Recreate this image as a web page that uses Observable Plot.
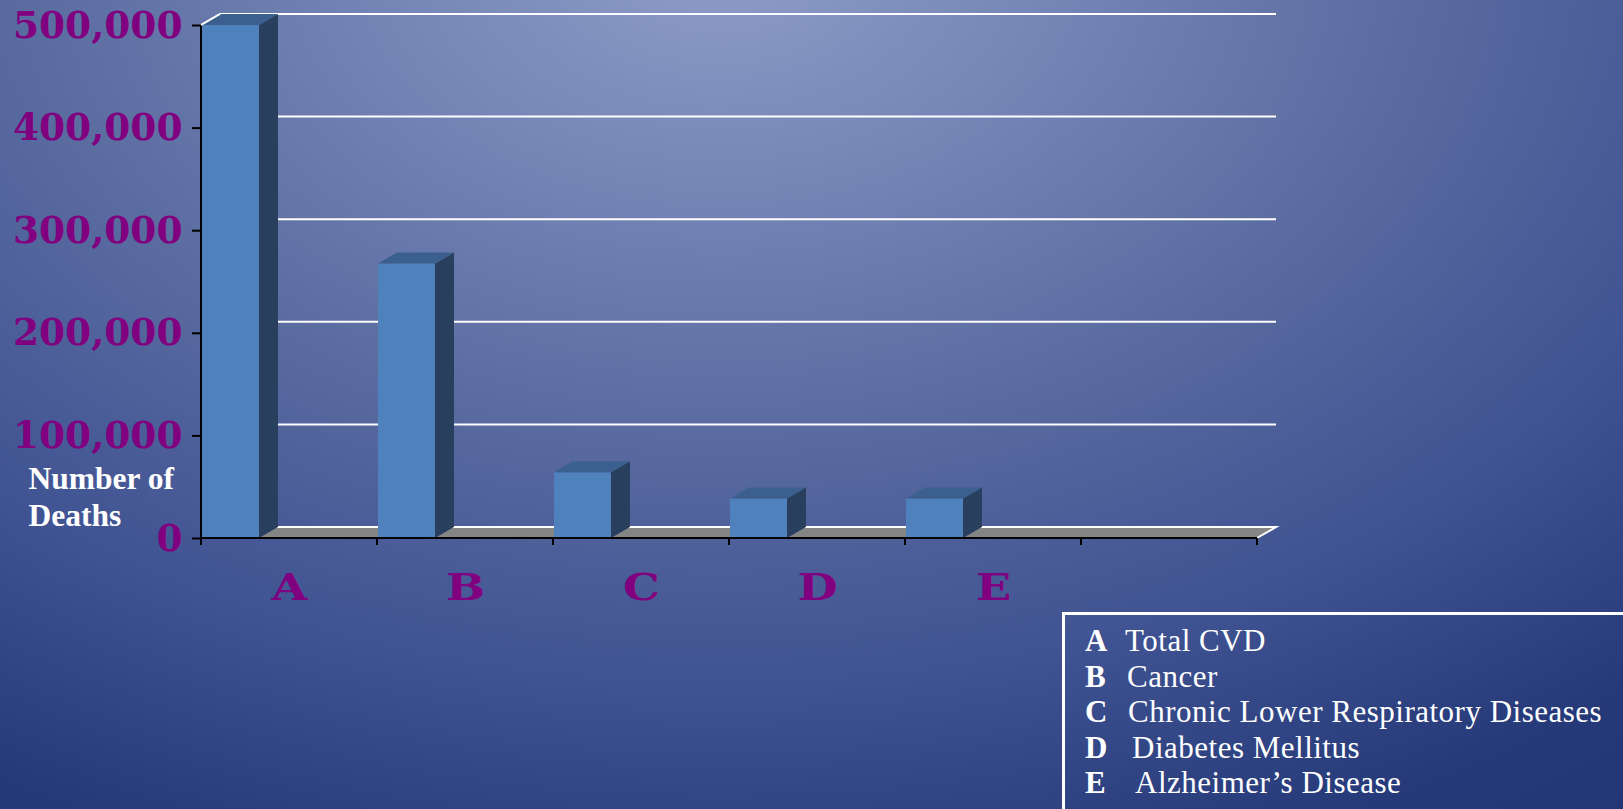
<!DOCTYPE html>
<html>
<head>
<meta charset="utf-8">
<script src="https://cdn.jsdelivr.net/npm/d3@7"></script>
<script src="https://cdn.jsdelivr.net/npm/@observablehq/plot@0.6"></script>
<style>
  html, body { margin: 0; padding: 0; }
  body {
    width: 1623px; height: 809px; overflow: hidden;
    background: radial-gradient(ellipse 1400px 950px at 720px -40px,
      #8e9dc7 0%, #7484b5 25%, #5a6ba0 50%, #415493 75%, #263a7a 100%, #1f3170 120%);
  }
  svg { display: block; }
  #legend {
    margin-left: 1062px;
    width: 620px; height: 260px;
    border-top: 3px solid #fff; border-left: 3px solid #fff;
    box-sizing: border-box;
    padding: 8px 0 0 20px;
    font-family: "Liberation Serif", serif;
    font-size: 31px; line-height: 35.5px; color: #fff; letter-spacing: 0.5px;
    white-space: nowrap;
  }
  #legend .k { display: inline-block; width: 40px; font-weight: bold; letter-spacing: 0; }
</style>
</head>
<body>
<script>
// ---- data ----
const categories = ["A", "B", "C", "D", "E"];
const deaths = [500000, 267500, 64000, 38600, 38600];
const tickLabels = ["A", "B", "C", "D", "E", ""];
const yTickValues = [0, 100000, 200000, 300000, 400000, 500000];
const legendLetters = ["A", "B", "C", "D", "E"];
const legendNames = ["Total CVD", "Cancer", "Chronic Lower Respiratory Diseases", "Diabetes Mellitus", "Alzheimer’s Disease"];
const yTitle = ["Number of", "Deaths"];

const data = categories.map((c, i) => ({cat: c, value: deaths[i]}));

// ---- styling constants ----
const INSET_L = 1, INSET_R = 118, DX = 19, DY = 11;
const PURPLE = "#800080";
const FRONT = "#4f81bd", TOP = "#3b5f8e", SIDE = "#283f5e", FLOOR = "#858585";
const LEGEND_INDENT = [0, 2, 3, 7, 10];

function bw(x) { return typeof x.bandwidth === "function" ? x.bandwidth() : 176; }

function wallAndFloor(index, scales) {
  const {x, y} = scales;
  const [x0, x1] = x.range();
  const y0 = y(0);
  const g = d3.create("svg:g");
  for (const v of yTickValues) {
    if (v === 0) continue;
    g.append("line").attr("x1", x0 + DX).attr("x2", x1 + DX)
      .attr("y1", y(v) - DY).attr("y2", y(v) - DY)
      .attr("stroke", "#fff").attr("stroke-width", 2);
    g.append("line").attr("x1", x0).attr("x2", x0 + DX)
      .attr("y1", y(v)).attr("y2", y(v) - DY)
      .attr("stroke", "#fff").attr("stroke-width", 2);
  }
  g.append("polygon")
    .attr("points", [[x0, y0], [x1, y0], [x1 + DX, y0 - DY], [x0 + DX, y0 - DY]].join(" "))
    .attr("fill", FLOOR);
  g.append("polyline")
    .attr("points", [[x0 + DX, y0 - DY], [x1 + DX, y0 - DY], [x1, y0]].join(" "))
    .attr("fill", "none").attr("stroke", "#fff").attr("stroke-width", 2);
  return g.node();
}

function bars3d(index, scales) {
  const {x, y} = scales;
  const y0 = y(0);
  const w = bw(x) - INSET_L - INSET_R;
  const g = d3.create("svg:g");
  for (const d of data) {
    const bx = x(d.cat) + INSET_L, t = y(d.value);
    g.append("polygon")
      .attr("points", [[bx + w, y0], [bx + w + DX, y0 - DY], [bx + w + DX, t - DY], [bx + w, t]].join(" "))
      .attr("fill", SIDE);
    g.append("polygon")
      .attr("points", [[bx, t], [bx + DX, t - DY], [bx + w + DX, t - DY], [bx + w, t]].join(" "))
      .attr("fill", TOP);
  }
  return g.node();
}

function axesLines(index, scales) {
  const {x, y} = scales;
  const [x0, x1] = x.range();
  const y0 = y(0);
  const g = d3.create("svg:g").attr("stroke", "#000").attr("stroke-width", 2);
  g.append("line").attr("x1", x0).attr("x2", x1).attr("y1", y0).attr("y2", y0);
  g.append("line").attr("x1", x0).attr("x2", x0).attr("y1", y(d3.max(yTickValues))).attr("y2", y0 + 7);
  const edges = tickLabels.map(c => x(c)).concat([x1]);
  for (const e of edges) {
    g.append("line").attr("x1", e).attr("x2", e).attr("y1", y0).attr("y2", y0 + 7);
  }
  const top = d3.max(yTickValues);
  g.append("line").attr("x1", x0).attr("x2", x0 + DX).attr("y1", y(top)).attr("y2", y(top) - DY)
    .attr("stroke", "#fff");
  return g.node();
}

const chart = Plot.plot({
  width: 1623,
  height: 612,
  marginLeft: 201,
  marginRight: 366,
  marginTop: 25,
  marginBottom: 74,
  style: {background: "transparent", overflow: "visible"},
  x: {type: "band", domain: tickLabels, paddingInner: 0, paddingOuter: 0},
  y: {domain: [0, 500000]},
  marks: [
    wallAndFloor,
    Plot.barY(data, {x: "cat", y: "value", fill: FRONT, insetLeft: INSET_L, insetRight: INSET_R}),
    bars3d,
    axesLines,
    Plot.axisY({
      ticks: yTickValues, tickFormat: d3.format(","), tickSize: 9, tickPadding: 10,
      stroke: "#000", strokeWidth: 2, fill: PURPLE, label: null,
      fontFamily: "DejaVu Serif", fontSize: 37.5, fontWeight: "bold"
    }),
    Plot.axisX({
      tickSize: 0, tickPadding: 35, fill: PURPLE, label: null,
      fontFamily: "DejaVu Serif", fontSize: 37, fontWeight: "bold"
    }),
    Plot.text([yTitle.join("\n")], {
      frameAnchor: "bottom-left", dx: -173, dy: -13, textAnchor: "start", lineAnchor: "bottom",
      lineHeight: 1.15, fill: "#fff", fontFamily: "Liberation Serif", fontSize: 31.5, fontWeight: "bold"
    })
  ]
});
document.body.appendChild(chart);

// widen the category letters a little, like the original's broad serif face
d3.select(chart).selectAll('[aria-label="x-axis tick label"] text').each(function () {
  const t = this.getAttribute("transform") || "";
  this.setAttribute("transform", t + " scale(1.25,1)");
});

const legend = document.createElement("div");
legend.id = "legend";
legendLetters.forEach((k, i) => {
  const row = document.createElement("div");
  const ks = document.createElement("span");
  ks.className = "k"; ks.textContent = k;
  ks.style.width = (40 + LEGEND_INDENT[i]) + "px";
  row.appendChild(ks);
  row.appendChild(document.createTextNode(legendNames[i]));
  legend.appendChild(row);
});
document.body.appendChild(legend);
</script>
</body>
</html>
